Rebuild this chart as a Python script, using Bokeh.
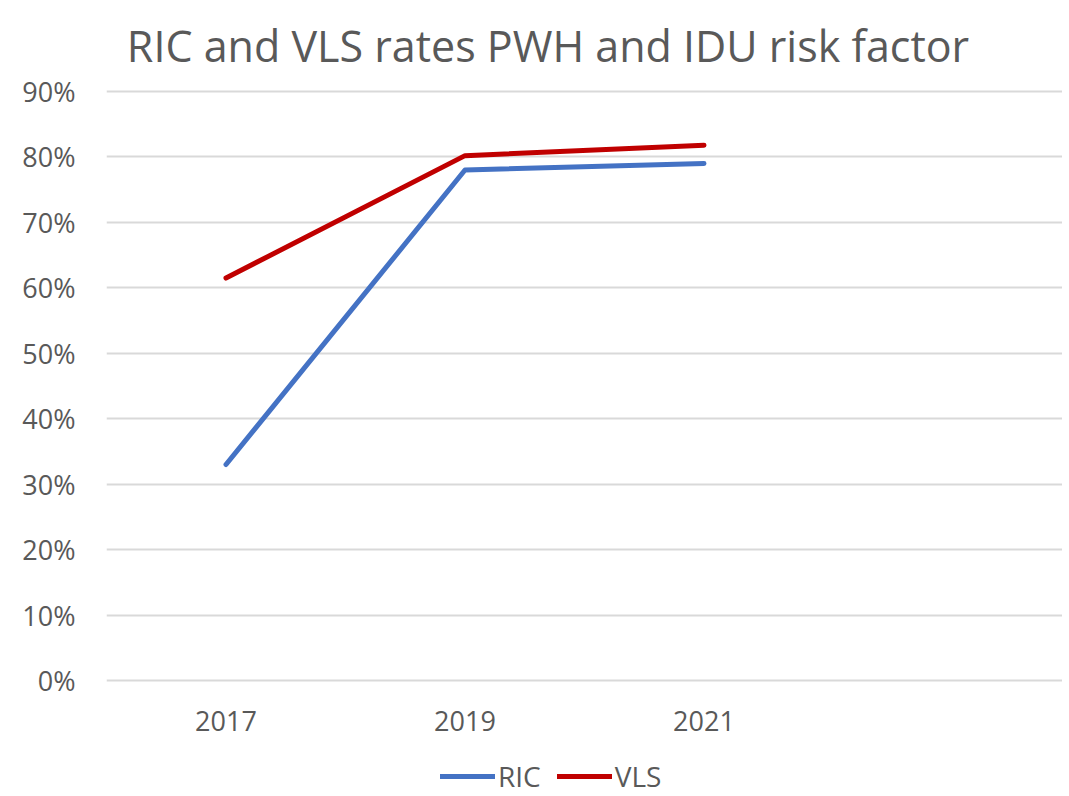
from bokeh.plotting import figure
from bokeh.models import Legend, LegendItem, NumeralTickFormatter, FixedTicker, Label
from bokeh.core.properties import value
from bokeh.embed import file_html
from bokeh.resources import INLINE

categories = ["2017", "2019", "2021", ""]
years = ["2017", "2019", "2021"]
ric = [0.33, 0.78, 0.79]
vls = [0.615, 0.802, 0.818]
y_ticks = [0.0, 0.1, 0.2, 0.3, 0.4, 0.5, 0.6, 0.7, 0.8, 0.9]
title_text = "RIC and VLS rates PWH and IDU risk factor"

FONT = "Open Sans"
GREY = "#595959"

# layout (screen px): plot area 0%..90% spans y 680..91, figure height 796
PX_PER_UNIT = 589 / 0.9
Y_TOP = 0.9 + 91 / PX_PER_UNIT
Y_BOTTOM = -(796 - 680) / PX_PER_UNIT
X_LABEL_Y = -40 / PX_PER_UNIT
TITLE_Y = 0.9 + 46 / PX_PER_UNIT

xs = [categories.index(y) + 0.5 for y in years]

p = figure(frame_width=956, frame_height=796, x_range=(0, len(categories)),
           y_range=(Y_BOTTOM, Y_TOP), x_axis_location=None,
           output_backend="svg", toolbar_location=None,
           min_border_left=106, min_border_right=0, min_border_top=0, min_border_bottom=0)

r1 = p.line(xs, ric, line_color="#4472C4", line_width=5, line_cap="round", line_join="round")
r2 = p.line(xs, vls, line_color="#C00000", line_width=5, line_cap="round", line_join="round")

p.text(x=xs, y=X_LABEL_Y, text=years, text_align="center", text_baseline="middle",
       text_font=value(FONT), text_font_size="27px", text_color=GREY)

p.add_layout(Label(x=(547.5 - 106) / 956 * len(categories), y=TITLE_Y, text=title_text,
                   text_align="center", text_baseline="alphabetic",
                   text_font=FONT, text_font_size="43px", text_color=GREY))

ax = p.yaxis[0]
ax.ticker = FixedTicker(ticks=y_ticks)
ax.bounds = (0, 0.9)
ax.formatter = NumeralTickFormatter(format="0%")
ax.axis_line_color = None
ax.major_tick_line_color = None
ax.minor_tick_line_color = None
ax.major_label_text_font = FONT
ax.major_label_text_font_size = "27px"
ax.major_label_text_color = GREY
ax.major_label_standoff = 25

p.xgrid.grid_line_color = None
p.ygrid.grid_line_color = "#D9D9D9"
p.ygrid.grid_line_width = 2
p.outline_line_color = None

legend = Legend(items=[LegendItem(label="RIC", renderers=[r1]),
                       LegendItem(label="VLS", renderers=[r2])],
                orientation="horizontal", location=(334, 1),
                label_text_font=FONT, label_text_font_size="28px", label_text_color=GREY,
                glyph_width=55, label_standoff=3, spacing=16, border_line_color=None,
                background_fill_alpha=0, padding=0, margin=0)
p.add_layout(legend, "center")

open("out.html", "w").write(file_html(p, INLINE))
